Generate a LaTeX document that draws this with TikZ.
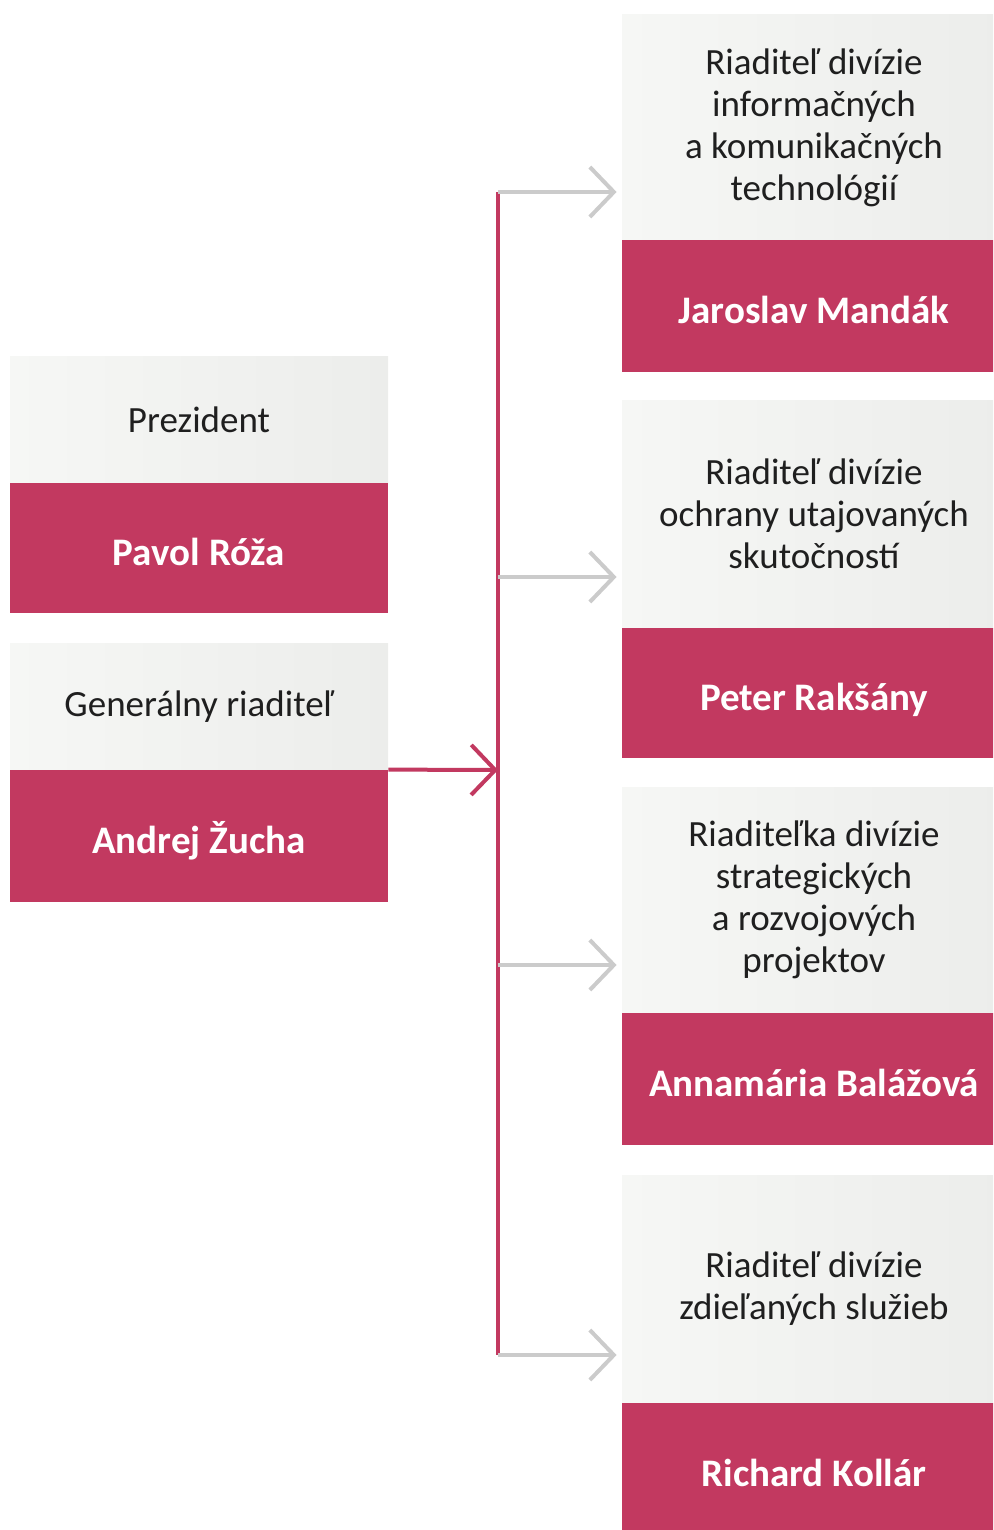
\documentclass[tikz,border=0pt]{standalone}
\usepackage{fontspec}
\setmainfont{Carlito}
\usetikzlibrary{arrows.meta}
\definecolor{rose}{RGB}{194,57,96}
\definecolor{paleL}{RGB}{246,247,245}
\definecolor{paleR}{RGB}{236,237,235}
\definecolor{arrowgray}{RGB}{203,203,203}
\tikzset{
  rolebox/.style={rectangle, inner sep=0pt, left color=paleL, right color=paleR, draw=none,
    font=\fontsize{18.5}{21}\selectfont, text=black!88, align=center},
  personbox/.style={rectangle, inner sep=0pt, fill=rose, draw=none, text=white,
    text height=18pt, text depth=0.5pt,
    font=\fontsize{19.5}{22}\selectfont\bfseries},
  leftbox/.style={minimum width=189pt},
  rightbox/.style={minimum width=192pt},
  link/.style={draw=arrowgray, line width=2pt, shorten >=2.5pt,
    -{Straight Barb[length=12pt,width=25pt,line width=2pt]}},
  mainlink/.style={draw=rose, line width=2pt,
    -{Straight Barb[length=12pt,width=25pt,line width=2pt]}},
  trunkline/.style={draw=rose, line width=2.2pt},
}
\begin{document}
\begin{tikzpicture}[x=0.5pt, y=-0.5pt]
\useasboundingbox (0,0) rectangle (993,1530);
\clip (0,0) rectangle (993,1530);
% left column
\node[rolebox, leftbox, minimum height=64pt] (pres) at (199,420) {Prezident};
\node[personbox, leftbox, minimum height=65pt] (roza) at (199,548) {Pavol Róža};
\node[rolebox, leftbox, minimum height=63.5pt] (gen) at (199,706.5) {Generálny riaditeľ};
\node[personbox, leftbox, minimum height=66pt] (zucha) at (199,836) {Andrej Žucha};
% right column
\node[rolebox, rightbox, minimum height=112.5pt] (r1) at (814,127.5) {Riaditeľ divízie\\informačných\\a komunikačných\\technológií};
\node[personbox, rightbox, minimum height=66pt] (p1) at (814,306) {Jaroslav Mandák};
\node[rolebox, rightbox, minimum height=114pt] (r2) at (814,514) {Riaditeľ divízie\\ochrany utajovaných\\skutočností};
\node[personbox, rightbox, minimum height=65pt] (p2) at (814,693) {Peter Rakšány};
\node[rolebox, rightbox, minimum height=113pt] (r3) at (814,900) {Riaditeľka divízie\\strategických\\a rozvojových\\projektov};
\node[personbox, rightbox, minimum height=66pt] (p3) at (814,1079) {Annamária Balážová};
\node[rolebox, rightbox, minimum height=114pt] (r4) at (814,1289) {Riaditeľ divízie\\zdieľaných služieb};
\node[personbox, rightbox, minimum height=66pt] (p4) at (814,1469) {Richard Kollár};
% trunk
\coordinate (t1) at (498,192);
\coordinate (t2) at (498,577);
\coordinate (t3) at (498,965);
\coordinate (t4) at (498,1355);
\coordinate (hub) at (498,770);
\draw[trunkline] (t1) -- (t4);
\draw[link] (t1) -- (r1.west |- t1);
\draw[link] (t2) -- (r2.west |- t2);
\draw[link] (t3) -- (r3.west |- t3);
\draw[link] (t4) -- (r4.west |- t4);
\draw[mainlink] (zucha.north east) -- (hub);
\end{tikzpicture}
\end{document}
